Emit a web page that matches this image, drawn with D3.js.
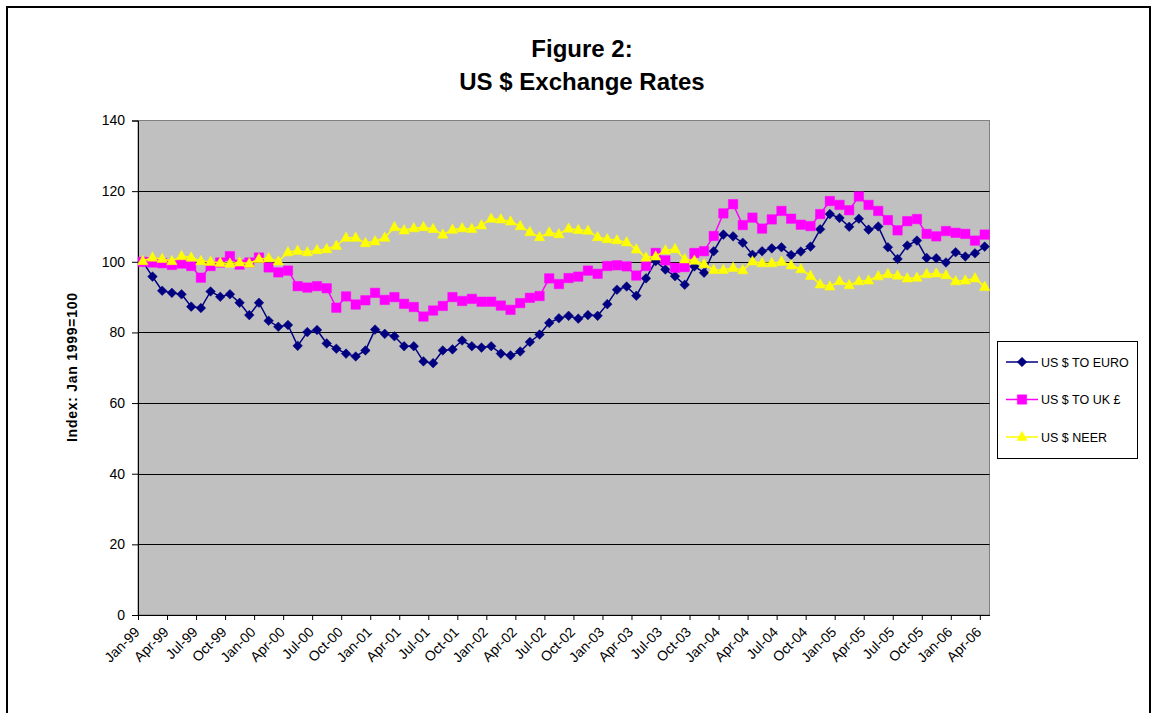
<!DOCTYPE html>
<html><head><meta charset="utf-8">
<script src="https://cdn.jsdelivr.net/npm/d3@7"></script>
<style>
html,body{margin:0;padding:0;background:#fff;}
svg{display:block;font-family:"Liberation Sans",Arial,sans-serif;}
</style></head>
<body><svg id="c" width="1156" height="713"></svg>
<script>
// Monthly categories Jan-99 .. Apr-06
const startYear = 1999, nMonths = 88;
const months = d3.range(nMonths).map(i => new Date(startYear, i, 1));
const yTicks = [0, 20, 40, 60, 80, 100, 120, 140];
const seriesNames = ["US $ TO EURO", "US $ TO UK £", "US $ NEER"];

const usdEuro = [100,95.8,91.8,91.2,90.8,87.3,86.9,91.6,90.1,90.8,88.4,84.9,
  88.4,83.3,81.6,82.1,76.2,80.1,80.7,76.9,75.4,74.0,73.2,74.9,
  80.8,79.6,78.9,76.1,76.1,71.8,71.3,74.9,75.2,77.7,76.1,75.7,
  76.1,74.0,73.5,74.6,77.3,79.4,82.7,84.0,84.7,83.9,84.9,84.7,
  88.0,92.1,93.0,90.4,95.3,100.2,97.8,95.9,93.5,98.7,96.9,103.0,
  107.7,107.2,105.4,102.0,103.0,103.8,104.1,101.9,102.9,104.3,109.2,113.5,
  112.4,109.9,112.2,109.1,110.0,104.1,100.8,104.6,106.0,101.1,101.0,99.8,
  102.7,101.5,102.4,104.3];
const usdGbp = [100,99.8,99.6,99.1,99.5,98.8,95.5,98.8,99.8,101.6,99.2,99.8,
  101.2,98.4,97.0,97.5,93.1,92.7,93.1,92.5,87.0,90.2,87.9,89.1,
  91.2,89.2,90.0,88.1,87.2,84.5,86.2,87.5,90.0,88.9,89.5,88.7,
  88.7,87.6,86.4,88.3,89.8,90.3,95.3,93.7,95.4,95.8,97.5,96.6,
  98.8,99.0,98.7,96.1,98.8,102.5,100.4,98.3,98.5,102.5,103.0,107.3,
  113.7,116.3,110.4,112.5,109.4,112.0,114.4,112.2,110.5,110.1,113.5,117.2,
  116.1,114.6,118.5,116.1,114.4,111.8,108.9,111.5,112.1,107.9,107.2,108.7,
  108.2,107.9,106.0,107.7];
const usdNeer = [100.2,101.2,100.8,100.2,101.6,101.2,100.2,100.0,99.7,99.5,99.8,99.5,
  100.8,101.0,100.1,102.7,103.1,102.7,103.3,103.6,104.5,106.8,106.8,105.3,
  105.8,106.8,109.8,108.9,109.5,109.8,109.3,107.7,109.1,109.5,109.3,110.3,
  112.2,112.0,111.4,110.1,108.4,107.0,108.3,107.8,109.4,109.0,108.8,107.0,
  106.4,106.1,105.5,103.5,101.2,101.5,103.2,103.6,100.7,100.3,99.3,97.7,
  97.7,98.3,97.6,100.1,99.6,99.6,100.0,99.0,97.9,96.0,93.6,93.0,
  94.5,93.4,94.5,94.7,95.9,96.5,96.1,95.3,95.5,96.5,96.7,96.2,
  94.5,94.7,95.3,92.9];

const svg = d3.select("#c");
const font = '"Liberation Sans",Arial,sans-serif';

// outer frame
svg.append("rect").attr("x",7).attr("y",7).attr("width",1143).attr("height",720)
  .attr("fill","#fff").attr("stroke","#000").attr("stroke-width",2);

// title
svg.append("text").attr("x",582).attr("y",57).attr("text-anchor","middle")
  .attr("font-size",24).attr("font-weight","bold").text("Figure 2:");
svg.append("text").attr("x",582).attr("y",90).attr("text-anchor","middle")
  .attr("font-size",24).attr("font-weight","bold").text("US $ Exchange Rates");

const L = 138, R = 989.5, T = 120.5, B = 615;
const x = d3.scaleLinear().domain([0, nMonths]).range([L, R]);
const y = d3.scaleLinear().domain([0, 140]).range([B, T]);

// plot area
svg.append("rect").attr("x",L).attr("y",T).attr("width",R-L).attr("height",B-T)
  .attr("fill","#C0C0C0").attr("stroke","#808080").attr("stroke-width",1);

// gridlines
svg.append("g").selectAll("line").data(yTicks.filter(v=>v>0 && v<140)).join("line")
  .attr("x1",L).attr("x2",R).attr("y1",d=>Math.round(y(d))+0.5).attr("y2",d=>Math.round(y(d))+0.5)
  .attr("stroke","#000").attr("stroke-width",1);

// y axis
const yAxis = svg.append("g").attr("transform",`translate(${L},0)`)
  .call(d3.axisLeft(y).tickValues(yTicks).tickSize(6).tickPadding(7).tickFormat(d3.format("d")));
yAxis.selectAll("text").attr("font-size",14).attr("font-family",font).attr("fill","#000");
yAxis.selectAll("line,path").attr("stroke","#000");

// x axis
const fmt = d3.timeFormat("%b-%y");
const xTickIdx = d3.range(0, nMonths, 3);
const xAxis = svg.append("g").attr("transform",`translate(0,${B})`)
  .call(d3.axisBottom(x).tickValues(xTickIdx).tickSize(5).tickSizeOuter(0).tickFormat(i => fmt(months[i])));
xAxis.selectAll("line,path").attr("stroke","#000");
xAxis.selectAll("text").attr("font-size",14).attr("font-family",font).attr("fill","#000")
  .attr("text-anchor","end").attr("dy",0).attr("y",0)
  .attr("transform","translate(2,18) rotate(-45)");

// y axis title
svg.append("text").attr("transform","translate(77,367.5) rotate(-90)").attr("text-anchor","middle")
  .attr("font-size",14).attr("font-weight","bold")
  .attr("textLength",149).attr("lengthAdjust","spacing").text("Index: Jan 1999=100");

// series
const cx = i => x(i + 0.5);
const series = [
  {name: seriesNames[0], values: usdEuro, color: "#000080", sym: "diamond"},
  {name: seriesNames[1], values: usdGbp, color: "#FF00FF", sym: "square"},
  {name: seriesNames[2], values: usdNeer, color: "#FFFF00", sym: "triangle"}
];
function markerPath(sym) {
  if (sym === "diamond") return "M0,-4.8L4.8,0L0,4.8L-4.8,0Z";
  if (sym === "square") return "M-4.7,-4.7H4.7V4.7H-4.7Z";
  return "M0,-5.8L5.2,3.6H-5.2Z";
}
const line = d3.line().x((d,i)=>cx(i)).y(d=>y(d));
series.forEach(s => {
  const g = svg.append("g");
  g.append("path").attr("d", line(s.values)).attr("fill","none")
    .attr("stroke", s.color).attr("stroke-width",1.5);
  g.selectAll("path.m").data(s.values).join("path").attr("class","m")
    .attr("d", markerPath(s.sym))
    .attr("transform",(d,i)=>`translate(${cx(i)},${y(d)})`)
    .attr("fill", s.color).attr("stroke", s.color).attr("stroke-width",0.5);
});

// legend
const lg = svg.append("g");
lg.append("rect").attr("x",997.5).attr("y",341.5).attr("width",140).attr("height",117)
  .attr("fill","#fff").attr("stroke","#000").attr("stroke-width",1);
series.forEach((s, k) => {
  const ly = 362 + k*37.5;
  lg.append("line").attr("x1",1006).attr("x2",1038).attr("y1",ly).attr("y2",ly)
    .attr("stroke", s.color).attr("stroke-width",1.5);
  lg.append("path").attr("d", markerPath(s.sym)).attr("transform",`translate(1022,${ly})`)
    .attr("fill", s.color).attr("stroke", s.color).attr("stroke-width",0.5);
  lg.append("text").attr("x",1041).attr("y",ly+4.5).attr("font-size",12.5).text(s.name);
});
</script>
</body></html>
